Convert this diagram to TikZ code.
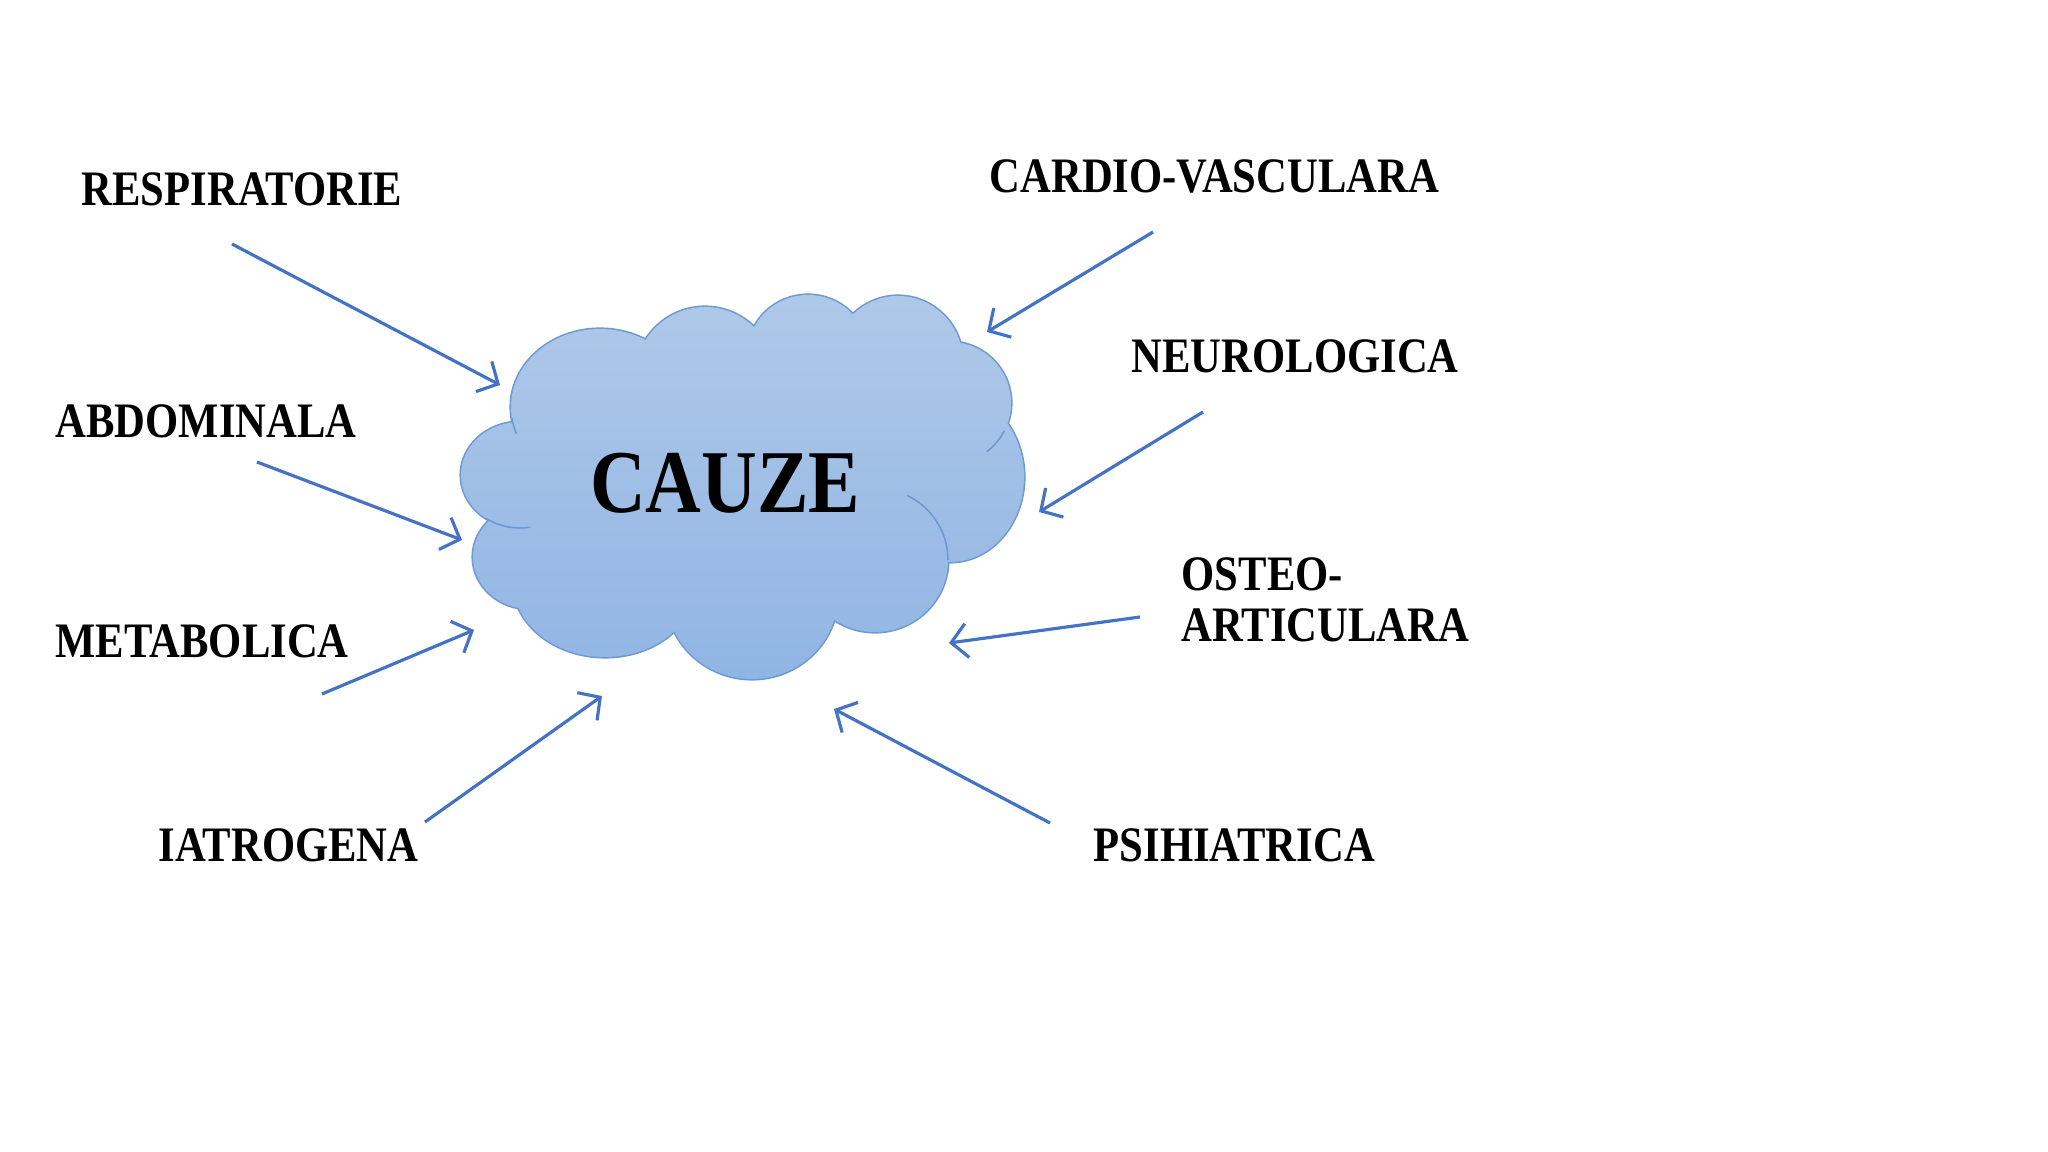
\documentclass[tikz,border=0pt]{standalone}
\usepackage{fontspec}
\setmainfont{Liberation Serif}[FakeStretch=0.86]
\usetikzlibrary{arrows.meta}

\definecolor{cloudtop}{HTML}{B0C9E9}
\definecolor{cloudbot}{HTML}{8FB4E3}
\definecolor{cloudedge}{HTML}{6E9AD2}
\definecolor{arrowblue}{HTML}{4472C4}

\tikzset{
        cause/.style={font=\fontsize{14.1}{14.5}\selectfont\bfseries, inner sep=0pt, anchor=west, align=left},
        pointer/.style={draw=arrowblue, line width=0.9pt, -{Straight Barb[length=1.6mm,width=3.4mm]}},
        cloudline/.style={draw=cloudedge, line width=0.45pt},
        cloudbumps/.style={insert path={
                (600,407) ellipse [x radius=89, y radius=78]
                (705,377) ellipse [x radius=70, y radius=70]
                (808,353) ellipse [x radius=60, y radius=58]
                (898,362) ellipse [x radius=65, y radius=66]
                (950,403) ellipse [x radius=61, y radius=61]
                (950,477) ellipse [x radius=74, y radius=85]
                (875,560) ellipse [x radius=73, y radius=72]
                (752,595) ellipse [x radius=86, y radius=84]
                (605,582) ellipse [x radius=92, y radius=75]
                (530,557) ellipse [x radius=57, y radius=52]
                (520,475) ellipse [x radius=59, y radius=53]}}
}

\begin{document}
\begin{tikzpicture}[x=0.01cm, y=-0.01cm]

        \useasboundingbox[fill=white] (0,0) rectangle (2048,1152);

        % cloud: thick outline first, then the shaded union on top
        \draw[cloudline, line width=0.9pt, cloudbumps];
        \begin{scope}
                \clip[cloudbumps] (740,480) ellipse [x radius=220, y radius=140];
                \shade[top color=cloudtop, bottom color=cloudbot] (440,280) rectangle (1040,700);
        \end{scope}
        \draw[cloudline] (875,560) ++(-64:73 and 72) arc[start angle=-64, end angle=0, x radius=73, y radius=72];
        \draw[cloudline] (950,403) ++(27:61 and 61) arc[start angle=27, end angle=53, x radius=61, y radius=61];
        \draw[cloudline] (520,475) ++(80:59 and 53) arc[start angle=80, end angle=125, x radius=59, y radius=53];
        \draw[cloudline] (600,407) ++(160:89 and 78) arc[start angle=160, end angle=172, x radius=89, y radius=78];

        \node[font=\fontsize{25.5}{28}\selectfont\bfseries, inner sep=0pt] (cauze) at (725,483) {CAUZE};

        % causes
        \node[cause] (resp) at (81,189) {RESPIRATORIE};
        \node[cause] (cardio) at (989,176) {CARDIO-VASCULARA};
        \node[cause] (neuro) at (1131,356) {NEUROLOGICA};
        \node[cause] (abdo) at (55,421) {ABDOMINALA};
        \node[cause] (osteo) at (1181,600) {OSTEO-\\ARTICULARA};
        \node[cause] (meta) at (55,641) {METABOLICA};
        \node[cause] (iatro) at (158,845) {IATROGENA};
        \node[cause] (psih) at (1093,845) {PSIHIATRICA};

        \coordinate (resp-t) at (232,244);
        \coordinate (resp-h) at (500,385);
        \coordinate (cardio-t) at (1153,232);
        \coordinate (cardio-h) at (987,332);
        \coordinate (neuro-t) at (1203,412);
        \coordinate (neuro-h) at (1039,512);
        \coordinate (abdo-t) at (257,462);
        \coordinate (abdo-h) at (462,540);
        \coordinate (osteo-t) at (1140,617);
        \coordinate (osteo-h) at (949,643);
        \coordinate (meta-t) at (322,694);
        \coordinate (meta-h) at (474,630);
        \coordinate (iatro-t) at (425,822);
        \coordinate (iatro-h) at (602,696);
        \coordinate (psih-t) at (1050,823);
        \coordinate (psih-h) at (834,709);

        \foreach \c in {resp,cardio,neuro,abdo,osteo,meta,iatro,psih}
                \draw[pointer] (\c-t) -- (\c-h);

\end{tikzpicture}
\end{document}
